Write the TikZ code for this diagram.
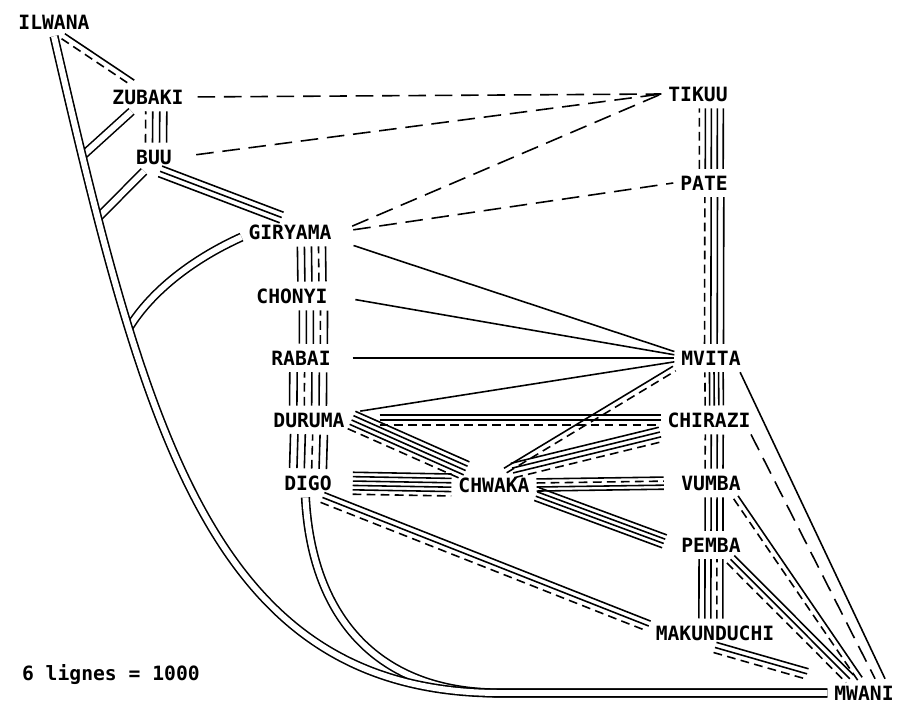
\documentclass[tikz,border=0pt]{standalone}
\usepackage{fontspec}
\newfontfamily\printfont{DejaVu Sans Mono}
\usetikzlibrary{calc}

% 平行线束：#1 额外选项，#2 线距，#3 起点，#4 终点，#5 各线样式
\newcommand{\bundle}[5][]{%
  \foreach \ls [count=\k] in {#5} {\xdef\bundlen{\k}}%
  \foreach \ls [count=\k] in {#5} {%
    \pgfmathsetmacro\bundleoff{(\k-(\bundlen+1)/2)*#2}%
    \draw[\ls,#1] ($(#3)!\bundleoff pt!-90:(#4)$) -- ($(#4)!\bundleoff pt!90:(#3)$);
  }%
}

\begin{document}
\begin{tikzpicture}[x=0.02cm, y=-0.02cm, line width=0.9pt,
    lbl/.style={font=\printfont\bfseries\fontsize{11.2}{13}\selectfont, inner sep=2pt, outer sep=2pt},
    lineS/.style={line width=0.9pt},
    lineD/.style={line width=0.9pt, dash pattern=on 5pt off 3pt},
    longD/.style={line width=0.9pt, dash pattern=on 10pt off 5pt},
    dbl/.style={double, double distance=3.4pt, line width=0.9pt}]
    \useasboundingbox (0,0) rectangle (900,705);
    % 左列
    \node[lbl] (ilwana) at (54,22) {ILWANA};
    \node[lbl] (zubaki) at (148,97) {ZUBAKI};
    \node[lbl] (buu) at (154,157) {BUU};
    \node[lbl] (giryama) at (290,232) {GIRYAMA};
    \node[lbl] (chonyi) at (292,296) {CHONYI};
    \node[lbl] (rabai) at (301,358) {RABAI};
    \node[lbl] (duruma) at (309,420) {DURUMA};
    \node[lbl] (digo) at (308,483) {DIGO};
    \node[lbl] (chwaka) at (494,485) {CHWAKA};
    % 右列
    \node[lbl] (tikuu) at (698,94) {TIKUU};
    \node[lbl] (pate) at (704,183) {PATE};
    \node[lbl] (mvita) at (711,358) {MVITA};
    \node[lbl] (chirazi) at (709,420) {CHIRAZI};
    \node[lbl] (vumba) at (711,483) {VUMBA};
    \node[lbl] (pemba) at (711,545) {PEMBA};
    \node[lbl] (makun) at (715,633) {MAKUNDUCHI};
    \node[lbl] (mwani) at (864,693) {MWANI};
    \node[lbl, anchor=west] (legend) at (15,675) {6 lignes = 1000};
    % 主曲线上的交点
    \path (ilwana.south) .. controls (147,440) and (215,693) .. (500,693)
        coordinate[pos=0.103] (j1) coordinate[pos=0.16] (j2) coordinate[pos=0.27] (j3);
    % 双线分支
    \draw[dbl] (zubaki.221) -- (j1);
    \draw[dbl] (buu.235) -- (j2);
    \draw[dbl] (giryama.186) .. controls (195,258) and (152,290) .. (j3);
    \draw[dbl] (digo.-100) .. controls (312,620) and (380,693) .. (500,693) -- (mwani.west);
    \draw[dbl] (ilwana.south) .. controls (147,440) and (215,693) .. (500,693) -- (mwani.west);
    % 左列竖线
    \bundle{3.4pt}{ilwana.-57}{zubaki.137}{lineS,lineD}
    \bundle{4pt}{buu.82}{zubaki.-60}{lineD,lineS,lineS,lineS}
    \bundle{3.2pt}{buu.-67}{giryama.120}{lineS,lineS,lineS}
    \bundle{4pt}{chonyi.36}{giryama.-34}{lineS,lineS,lineS,lineD,lineS}
    \bundle{4pt}{rabai.49}{chonyi.-34}{lineS,lineS,lineS,lineD,lineS}
    \bundle{4.2pt}{duruma.94}{rabai.-63}{lineS,lineS,lineD,lineS,lineS,lineS}
    \bundle{4.2pt}{digo.north}{duruma.south}{lineS,lineS,lineS,lineD,lineS,lineS}
    % 右列竖线
    \bundle{3.4pt}{pate.63}{tikuu.-47}{lineD,lineS,lineS,lineS,lineS}
    \bundle{3.6pt}{mvita.78}{pate.-54}{lineD,lineS,lineS,lineS}
    \bundle{2.6pt}{chirazi.70}{mvita.-78}{lineD,lineS,lineS,lineS,lineS}
    \bundle{3.4pt}{vumba.78}{chirazi.-70}{lineD,lineS,lineS,lineS}
    \bundle{3.4pt}{pemba.78}{vumba.-78}{lineS,lineS,lineS,lineS}
    \bundle{3.4pt}{makun.106}{pemba.south}{lineS,lineS,lineS,lineD,lineS}
    % 到 TIKUU 与 PATE 的虚线
    \draw[longD, shorten <=4pt] (zubaki.east) -- (tikuu.west);
    \draw[longD, shorten <=10pt] (buu.east) -- (tikuu.west);
    \draw[longD, shorten <=8.5pt] (giryama.east) -- (tikuu.west);
    \draw[longD, shorten <=8.5pt] (giryama.east) -- (pate.west);
    % 到 MVITA 的单线
    \draw[lineS, shorten <=9pt] (giryama.-10) -- (mvita.170);
    \draw[lineS, shorten <=12pt] (chonyi.east) -- (mvita.175);
    \draw[lineS, shorten <=8.5pt] (rabai.east) -- (mvita.west);
    \draw[lineS, shorten <=5pt] (duruma.10) -- (mvita.186);
    % DURUMA、DIGO 与 CHWAKA
    \bundle[shorten <=16pt]{2.8pt}{duruma.east}{chirazi.west}{lineS,lineS,lineD}
    \bundle{2.7pt}{duruma.east}{chwaka.153}{lineS,lineS,lineS,lineS,lineD}
    \bundle[shorten <=8pt]{2.5pt}{digo.east}{chwaka.west}{lineS,lineS,lineS,lineS,lineS,lineD}
    \bundle{3pt}{digo.-45}{makun.174}{lineS,lineS,lineD}
    \bundle{3pt}{chwaka.52}{mvita.196}{lineS,lineD}
    \bundle{2.8pt}{chwaka.38}{chirazi.south west}{lineS,lineS,lineS,lineD}
    \bundle[shorten >=6pt]{2.3pt}{chwaka.east}{vumba.west}{lineS,lineD,lineS,lineS}
    \bundle[shorten >=6pt]{2.6pt}{chwaka.-12}{pemba.west}{lineS,lineS,lineS,lineS}
    % 到 MWANI
    \draw[lineS] (mvita.-26) -- (mwani.34);
    \draw[longD] (chirazi.-19) -- (mwani.52);
    \bundle{3pt}{vumba.-30}{mwani.106}{lineS,lineD}
    \bundle{3pt}{pemba.-36}{mwani.135}{lineS,lineS,lineD}
    \bundle[shorten >=12pt]{3pt}{makun.south}{mwani.160}{lineS,lineS,lineD}
\end{tikzpicture}
\end{document}
